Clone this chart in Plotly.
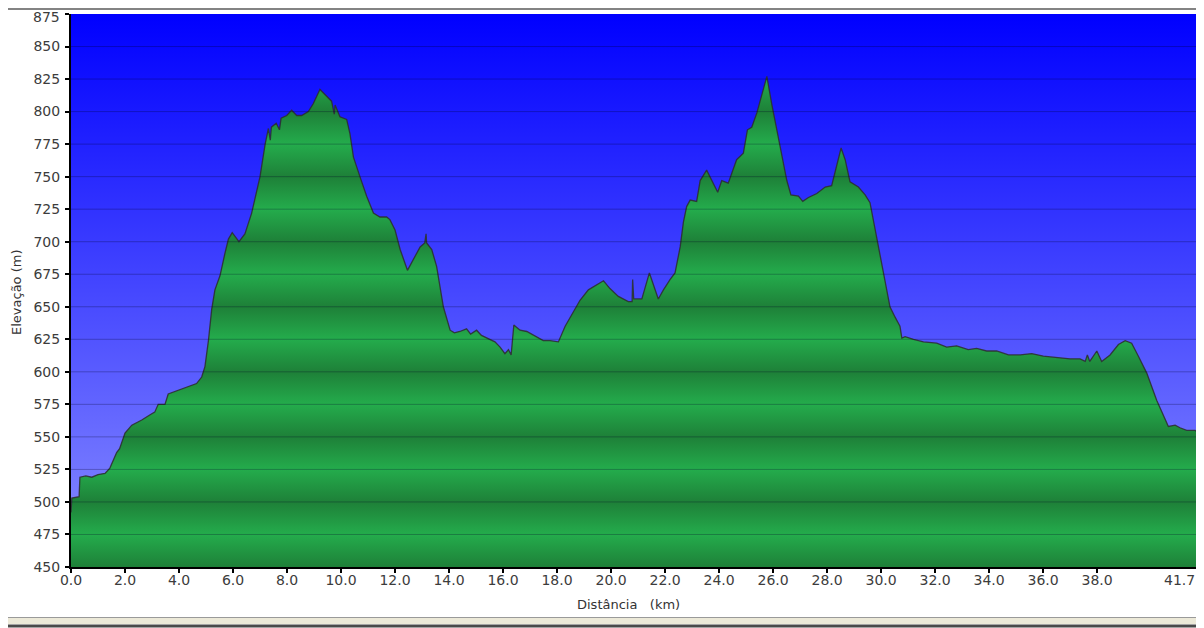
import plotly.graph_objects as go

# elevation profile
DIST_KM = [
    0.00, 0.03, 0.30, 0.33, 0.55, 0.77, 1.00, 1.26, 1.44, 1.60, 1.69, 1.80,
    2.00, 2.25, 2.62, 2.93, 3.10, 3.23, 3.48, 3.60, 3.97, 4.22, 4.65, 4.84,
    4.96, 5.09, 5.21, 5.33, 5.52, 5.70, 5.83, 5.97, 6.10, 6.22, 6.44, 6.69,
    7.00, 7.19, 7.31, 7.38, 7.42, 7.60, 7.72, 7.78, 7.99, 8.17, 8.36, 8.54,
    8.79, 8.97, 9.22, 9.41, 9.65, 9.75, 9.78, 9.96, 10.21, 10.33, 10.46, 10.70,
    10.95, 11.20, 11.44, 11.69, 11.81, 12.00, 12.19, 12.46, 12.68, 12.93, 13.10, 13.15,
    13.17, 13.36, 13.54, 13.67, 13.79, 14.04, 14.20, 14.40, 14.65, 14.80, 15.02, 15.20,
    15.40, 15.70, 15.89, 16.07, 16.20, 16.30, 16.40, 16.63, 16.88, 17.25, 17.49, 17.74,
    18.05, 18.30, 18.54, 18.85, 19.16, 19.47, 19.72, 19.96, 20.27, 20.64, 20.78, 20.80,
    20.84, 21.14, 21.42, 21.75, 21.94, 22.19, 22.37, 22.56, 22.68, 22.80, 22.93, 23.17,
    23.30, 23.54, 23.79, 23.95, 24.10, 24.34, 24.65, 24.90, 25.05, 25.21, 25.40, 25.58,
    25.77, 25.95, 26.14, 26.32, 26.51, 26.66, 26.94, 27.10, 27.31, 27.62, 27.93, 28.17,
    28.36, 28.52, 28.67, 28.85, 29.16, 29.41, 29.59, 29.78, 29.96, 30.15, 30.33, 30.52,
    30.58, 30.70, 30.77, 30.89, 31.20, 31.57, 32.06, 32.43, 32.80, 33.23, 33.54, 33.91,
    34.28, 34.72, 35.15, 35.58, 36.01, 36.51, 37.00, 37.37, 37.56, 37.64, 37.73, 37.99,
    38.17, 38.48, 38.79, 39.04, 39.28, 39.53, 39.84, 40.21, 40.46, 40.64, 40.89, 41.07,
    41.32, 41.63, 41.70,
]
ELEV_M = [
    492, 503, 504, 519, 520, 519, 521, 522, 526, 534, 538, 541,
    553, 559, 563, 567, 569, 575, 575, 583, 586, 588, 591, 596,
    604, 624, 648, 663, 674, 691, 702, 707, 703, 700, 706, 722,
    750, 775, 787, 778, 788, 791, 786, 795, 797, 801, 797, 797,
    800, 806, 817, 813, 808, 798, 805, 796, 794, 783, 765, 750,
    735, 722, 719, 719, 717, 709, 694, 678, 687, 696, 699, 706,
    699, 694, 681, 665, 650, 632, 630, 631, 633, 629, 632, 628,
    626, 623, 619, 614, 617, 613, 636, 632, 631, 627, 624, 624,
    623, 635, 644, 655, 663, 667, 670, 664, 658, 654, 654, 671,
    656, 656, 676, 656, 663, 671, 676, 696, 715, 727, 732, 731,
    747, 755, 744, 738, 747, 745, 763, 768, 786, 788, 799, 812,
    827, 806, 786, 768, 747, 736, 735, 731, 734, 737, 742, 743,
    758, 772, 763, 746, 742, 736, 730, 709, 689, 671, 650, 642,
    640, 635, 626, 627, 625, 623, 622, 619, 620, 617, 618, 616,
    616, 613, 613, 614, 612, 611, 610, 610, 608, 613, 608, 616,
    608, 613, 621, 624, 622, 612, 599, 578, 566, 558, 559, 557,
    555, 555, 554,
]

Y_TICKS = list(range(450, 876, 25))
X_TICKS = [0, 2, 4, 6, 8, 10, 12, 14, 16, 18, 20, 22, 24, 26, 28, 30, 32, 34, 36, 38]
X_END_LABEL = "41.7"
Y_TITLE = "Elevação (m)"
X_TITLE = "Distância\u00a0\u00a0\u00a0(km)"

Y_MIN, Y_MAX = Y_TICKS[0], Y_TICKS[-1]
X_MIN, X_MAX = DIST_KM[0], DIST_KM[-1]

# the page body has an 8px margin, so the figure sits at (8, 8) of the window
OFF = 8
FIG_W, FIG_H = 1204 - OFF, 628 - OFF
# plot area in window pixels: x 71..1197, y 14..567
PX_L, PX_R, PX_T, PX_B = 71, 1197, 14, 567
PW, PH = PX_R - PX_L, PX_B - PX_T


def px_x(px):
    return (px - PX_L) / PW


def px_y(py):
    return (PX_B - py) / PH


# green bands: dark on every 50 m, bright half way between
n = len(Y_TICKS) - 1
green_scale = []
for k in range(n + 1):
    col = "rgb(30,128,56)" if k % 2 == 0 else "rgb(36,172,76)"
    green_scale.append([k / n, col])

fig = go.Figure()

# blue gradient background
fig.add_trace(go.Scatter(
    x=[X_MIN, X_MAX], y=[Y_MAX, Y_MAX],
    mode="lines", line=dict(width=0), fill="tozeroy",
    fillgradient=dict(type="vertical", start=Y_MIN, stop=Y_MAX,
                      colorscale=[[0, "rgb(138,142,255)"], [1, "rgb(0,0,255)"]]),
    hoverinfo="skip", showlegend=False,
))

# elevation profile
fig.add_trace(go.Scatter(
    x=DIST_KM, y=ELEV_M,
    mode="lines", line=dict(color="rgba(45,45,45,0.85)", width=1.3),
    fill="tozeroy",
    fillgradient=dict(type="vertical", start=Y_MIN, stop=Y_MAX, colorscale=green_scale),
    showlegend=False,
))

shapes = []
# grid lines drawn over the fill
for v in Y_TICKS[1:-1]:
    shapes.append(dict(type="line", xref="paper", yref="y", x0=0, x1=1, y0=v, y1=v,
                       line=dict(color="rgba(0,0,40,0.28)", width=1), layer="above"))
# right edge of plot
shapes.append(dict(type="line", xref="paper", yref="paper", x0=1, x1=1, y0=0, y1=1,
                   line=dict(color="#8a8a8a", width=1), layer="above"))
# window frame: top line, bottom strip and right border
shapes.append(dict(type="line", xref="paper", yref="paper",
                   x0=px_x(OFF), x1=px_x(1204), y0=px_y(9), y1=px_y(9),
                   line=dict(color="#5a5a5a", width=1.5), layer="above"))
shapes.append(dict(type="rect", xref="paper", yref="paper",
                   x0=px_x(OFF), x1=px_x(1204), y0=px_y(624), y1=px_y(618),
                   fillcolor="#ECE9D8", line=dict(width=0), layer="above"))
shapes.append(dict(type="line", xref="paper", yref="paper",
                   x0=px_x(OFF), x1=px_x(1204), y0=px_y(617.5), y1=px_y(617.5),
                   line=dict(color="#9a9a9a", width=1), layer="above"))
shapes.append(dict(type="line", xref="paper", yref="paper",
                   x0=px_x(OFF), x1=px_x(1204), y0=px_y(626), y1=px_y(626),
                   line=dict(color="#4a4a4a", width=3), layer="above"))
shapes.append(dict(type="rect", xref="paper", yref="paper",
                   x0=px_x(1199.5), x1=px_x(1202.5), y0=px_y(628), y1=px_y(9),
                   fillcolor="#444444", line=dict(width=0), layer="above"))

tick_font = dict(family="DejaVu Sans", size=14, color="#3c3c3c")

annotations = [
    dict(text=Y_TITLE, xref="paper", yref="paper", x=px_x(16), y=px_y(292),
         textangle=-90, showarrow=False, xanchor="center", yanchor="middle",
         font=dict(family="DejaVu Sans", size=13, color="#333")),
    dict(text=X_TITLE, xref="paper", yref="paper", x=px_x(628), y=px_y(604),
         showarrow=False, xanchor="center", yanchor="middle",
         font=dict(family="DejaVu Sans", size=13, color="#333")),
    dict(text=X_END_LABEL, xref="paper", yref="paper", x=px_x(1197), y=px_y(570),
         showarrow=False, xanchor="right", yanchor="top", font=tick_font),
    # top y label, nudged down so it is not clipped at the page top
    dict(text=str(Y_MAX), xref="paper", yref="paper", x=px_x(61), y=px_y(8),
         showarrow=False, xanchor="right", yanchor="top", font=tick_font,
         borderpad=0),
]

fig.update_layout(
    width=FIG_W, height=FIG_H,
    margin=dict(l=PX_L - OFF, r=1204 - PX_R, t=PX_T - OFF, b=628 - PX_B),
    paper_bgcolor="white", plot_bgcolor="white",
    shapes=shapes, annotations=annotations,
    hovermode="x",
)
fig.update_xaxes(
    range=[X_MIN, X_MAX],
    tickvals=X_TICKS + [X_MAX],
    ticktext=[f"{v:.1f}" for v in X_TICKS] + [""],
    showgrid=False, zeroline=False,
    showline=True, linecolor="black", linewidth=2,
    ticks="outside", ticklen=4, tickwidth=2, tickcolor="black",
    tickfont=tick_font, ticklabelstandoff=-5, automargin=False,
)
fig.update_yaxes(
    range=[Y_MIN, Y_MAX],
    tickvals=Y_TICKS,
    ticktext=[str(v) for v in Y_TICKS[:-1]] + [""],
    showgrid=False, zeroline=False,
    showline=True, linecolor="black", linewidth=2,
    ticks="outside", ticklen=4, tickwidth=2, tickcolor="black",
    tickfont=tick_font, ticklabelstandoff=2,
    automargin=False,
)

fig.write_html("out.html")
